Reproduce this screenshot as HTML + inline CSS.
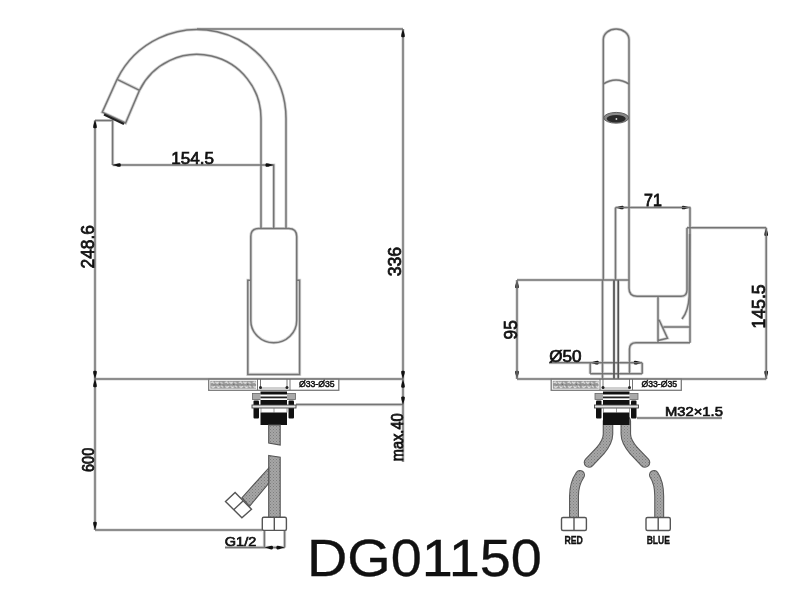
<!DOCTYPE html>
<html><head><meta charset="utf-8">
<style>
html,body{margin:0;padding:0;background:#fff;width:800px;height:600px;overflow:hidden}
svg{display:block;will-change:transform}
text{font-family:"Liberation Sans",sans-serif;fill:#111}
.t{stroke:#111;stroke-width:0.5}
</style></head><body>
<svg width="800" height="600" viewBox="0 0 800 600">
<defs>
<path id="ar" d="M0,0 C0.5,2.2 1.9,5 1.85,7.2 C1.8,8.6 -1.8,8.6 -1.85,7.2 C-1.9,5 -0.5,2.2 0,0z" fill="#111"/>
<pattern id="spk" width="14" height="8" patternUnits="userSpaceOnUse" x="210.3" y="380.8">
<rect width="14" height="8" fill="#969696"/>
<path d="M0.5,2 l2,-1 l1.5,2 M5,1 l2,1.5 l1.5,-1.5 M10,1.5 l2.5,1 M1,5.5 l2,1 l2,-1.5 M6.5,5 l1.5,1.8 l2,-1.2 M11,5 l2,1.5" stroke="#f0f0f0" stroke-width="1.1" fill="none"/>
<path d="M3.5,4.2 h1 M9,3.5 h1 M13,3.8 v0.8" stroke="#555" stroke-width="1" fill="none"/>
</pattern>
<pattern id="hose" width="3" height="3" patternUnits="userSpaceOnUse">
<rect width="3" height="3" fill="#a6a6a6"/>
<rect x="0" y="0" width="1" height="1" fill="#7e7e7e"/>
<rect x="1.5" y="1.5" width="1" height="1" fill="#888"/>
</pattern>
<g id="nut">
<rect x="208.7" y="379.2" width="130.1" height="11.1" fill="#fff" stroke="#7a7a7a" stroke-width="1.3"/>
<rect x="210.3" y="380.8" width="45.8" height="7.9" fill="url(#spk)"/>
<text transform="matrix(0.08660,0.00000,0.00000,0.09200,299.004,387.0)" font-size="100" stroke="#111" stroke-width="5.5">Ø33-Ø35</text>
<!-- washer -->
<rect x="252.5" y="393.5" width="43" height="6" fill="#a9a9a9" stroke="#666" stroke-width="0.8"/>
<!-- rod -->
<rect x="260.5" y="391" width="26.5" height="14" fill="#fff"/>
<rect x="260.5" y="391.5" width="26.5" height="3" fill="#111"/>
<rect x="260.5" y="396.5" width="26.5" height="1.8" fill="#222"/>
<rect x="260.5" y="400" width="26.5" height="5" fill="#111"/>
<!-- side blocks -->
<rect x="253.5" y="400.5" width="5.5" height="18" rx="1" fill="#111"/>
<rect x="288.5" y="400.5" width="5.5" height="18" rx="1" fill="#111"/>
<!-- bar -->
<rect x="252" y="405" width="44" height="3" fill="#e6e6e6" stroke="#444" stroke-width="0.9"/>
<path d="M261,408 v4.5 M287,408 v4.5 M274,408 v4.5" stroke="#777" stroke-width="0.7"/>
<!-- lower nut -->
<rect x="260.5" y="412.5" width="26.5" height="12.5" fill="#111"/>
<!-- slab gap details -->
<path d="M257.5,379 v11 M260.5,379 v9 M287,379 v9 M290,379 v11" stroke="#666" stroke-width="0.9"/>
<path d="M260.5,388 h26.5" stroke="#888" stroke-width="0.8"/>
<circle cx="260.5" cy="387.5" r="1.5" fill="#222"/>
<circle cx="287" cy="387.5" r="1.5" fill="#222"/>
</g>
<g id="L1">
<!-- ===== LEFT VIEW ===== -->
<!-- spout -->
<path d="M117.1,79.3 A89,89 0 0 1 286,118.5 L286,228.5"/>
<path d="M139.5,90.3 A64,64 0 0 1 261,118.5 L261,228.5"/>
<path d="M117.1,79.3 L139.5,90.3"/>
<path d="M117.1,79.3 L102.3,112.2 L125.6,123 L139.5,90.3"/>
<!-- handle -->
<path d="M250.8,320.5 L250.8,236.5 Q250.8,228.5 258.8,228.5 L288.7,228.5 Q296.7,228.5 296.7,236.5 L296.7,320.5 A22.95,22.2 0 0 1 250.8,320.5"/>
<!-- sleeve -->
<path d="M250.8,280.3 L247.8,280.3 L247.8,374.4 L299.6,374.4 L299.6,280.3 L296.7,280.3"/>
<!-- dims left -->
<path d="M197,29 L403,29"/>
<path d="M403,29 L403,462"/>
<path d="M95,120.5 L112.6,120.5 L112.6,165"/>
<path d="M95,120.5 L95,530"/>
<path d="M112.6,165 L273.7,165 L273.7,228.5"/>
<path d="M95,379 L403,379"/>
<path d="M296,404.6 L403,404.6"/>
<path d="M95,530 L262,530"/>
<path d="M264.4,530 v17.5 M284.6,530 v17.5 M225,547.4 h59.6"/>
</g>
<g id="L2">
<path d="M603.3,280 L603.3,39.5 A12.85,10.5 0 0 1 629,39.5 L629,288.3 Q629,296.3 637,296.3 L681,296.3 Q687,296.3 687,290 L687,227.7"/>
<path d="M603.3,84 Q616,76 629,84"/>
<path d="M602.5,280 L602.5,379 M614,280 L614,379 M618.3,280 L618.3,379"/>
<path d="M517,280 L629,280"/>
<path d="M517,280 L517,379"/>
<path d="M517,379 L766.2,379"/>
<path d="M615.5,207.5 L615.5,280 M690,207.5 L690,342.7"/>
<path d="M615.5,207.5 L690.5,207.5"/>
<path d="M687,227.7 L766.2,227.7 M766.2,227.7 L766.2,379"/>
<path d="M689.6,234 L689.2,296 Q688.5,311 682,319"/>
<path d="M658,296.3 L658,342.7 M659,319.7 L667.5,338.2 L658,340.5 M663.4,326.9 L690,326.9 M658,342.7 L690,342.7"/>
<path d="M658,342.7 L636,342.7 Q629.5,342.7 629.5,349 L629.5,374"/>
<path d="M590.2,362.7 v11 M642.2,362.7 v11 M549,362.7 h93.2"/>
<path d="M590.2,373.7 h52"/>
<path d="M637,418 h85"/>
</g>
</defs>
<use href="#L1" stroke="#d6d6d6" stroke-width="3.2" fill="none"/>
<use href="#L2" stroke="#d6d6d6" stroke-width="3.2" fill="none"/>


<use href="#L1" stroke="#747474" stroke-width="1.5" fill="none"/>
<path d="M104,114.5 L124,124" stroke="#222" stroke-width="2.4" fill="none"/>
<g id="arrows">
<use href="#ar" transform="translate(95,120) rotate(0)"/>
<use href="#ar" transform="translate(95,379) rotate(180)"/>
<use href="#ar" transform="translate(95,379) rotate(0)"/>
<use href="#ar" transform="translate(95,530) rotate(180)"/>
<use href="#ar" transform="translate(112.6,165) rotate(-90)"/>
<use href="#ar" transform="translate(273.7,165) rotate(90)"/>
<use href="#ar" transform="translate(403,29) rotate(0)"/>
<use href="#ar" transform="translate(403,379) rotate(180)"/>
<use href="#ar" transform="translate(403,379.5) rotate(0)"/>
<use href="#ar" transform="translate(403,404.8) rotate(180)"/>
<use href="#ar" transform="translate(264.8,547.6) rotate(-90)"/>
<use href="#ar" transform="translate(284.6,547.6) rotate(90)"/>
<use href="#ar" transform="translate(517,280) rotate(0)"/>
<use href="#ar" transform="translate(517,379) rotate(180)"/>
<use href="#ar" transform="translate(615.5,207.5) rotate(-90)"/>
<use href="#ar" transform="translate(690,207.5) rotate(90)"/>
<use href="#ar" transform="translate(766.2,227.7) rotate(0)"/>
<use href="#ar" transform="translate(766.2,379) rotate(180)"/>
<use href="#ar" transform="translate(590.6,362.7) rotate(-90)"/>
<use href="#ar" transform="translate(642,362.7) rotate(90)"/>
</g>
<!-- slab left -->
<use href="#nut"/>
<!-- left hoses -->
<path d="M268.7,425 h11.5 v20 l-11.5,-2z" fill="url(#hose)" stroke="#555" stroke-width="1.1"/>
<path d="M268.7,455.5 l11.5,1.8 v60.5 h-11.5z" fill="url(#hose)" stroke="#555" stroke-width="1.1"/>
<path d="M268.7,468 L242,497.7 L249.5,506.3 L268.7,483.3z" fill="url(#hose)" stroke="#555" stroke-width="1.1"/>
<g fill="#fff" stroke="#555" stroke-width="1.4">
<path d="M225.5,501.5 L235.1,492.5 L251.5,509.2 L241.9,517.8z"/>
<path d="M243.3,500.85 L233.7,509.65" fill="none"/>
<rect x="262.3" y="517.2" width="24.1" height="13.2" rx="1.5"/>
<path d="M274.3,517.2 v13.2" fill="none"/>
</g>

<!-- texts left -->
<!-- ===== RIGHT VIEW ===== -->
<use href="#L2" stroke="#747474" stroke-width="1.5" fill="none"/>
<ellipse cx="616.2" cy="117.8" rx="12.4" ry="5.4" fill="#8a8a8a" stroke="#555" stroke-width="0.9"/>
<ellipse cx="616.2" cy="118.8" rx="9.5" ry="3.8" fill="#2a2a2a"/>
<circle cx="616.4" cy="119" r="0.9" fill="#ddd"/>
<!-- slab right -->
<!-- right hoses -->
<g fill="none" stroke-linecap="round">
<path id="h1" d="M608,421 V434 C608,439 606,444 600,451 L589,462.5" stroke="#5a5a5a" stroke-width="10.6"/>
<path d="M608,421 V434 C608,439 606,444 600,451 L589,462.5" stroke="url(#hose)" stroke-width="8.4"/>
<path d="M625.8,421 V434 C625.8,439 628,444 634,451 L645,462.5" stroke="#5a5a5a" stroke-width="10.6"/>
<path d="M625.8,421 V434 C625.8,439 628,444 634,451 L645,462.5" stroke="url(#hose)" stroke-width="8.4"/>
<path d="M580,475 C576,481 574,487 574,496 V521" stroke="#5a5a5a" stroke-width="10"/>
<path d="M580,475 C576,481 574,487 574,496 V521" stroke="url(#hose)" stroke-width="7.8"/>
<path d="M654,475 C658,481 659.2,487 659.2,496 V521" stroke="#5a5a5a" stroke-width="10"/>
<path d="M654,475 C658,481 659.2,487 659.2,496 V521" stroke="url(#hose)" stroke-width="7.8"/>
</g>
<path d="M614,280.5 V379 M618.3,280.5 V379" stroke="#505050" stroke-width="1.3" fill="none"/>
<use href="#nut" transform="translate(342.5,0)"/>

<g fill="#fff" stroke="#555" stroke-width="1.4">
<rect x="561.5" y="517.5" width="24.9" height="13" rx="1.5"/>
<path d="M574,517.5 v13" fill="none"/>
<rect x="646" y="517.5" width="24.3" height="13" rx="1.5"/>
<path d="M658.2,517.5 v13" fill="none"/>
</g>
<g id="texts">
<text transform="matrix(0.17101,0.00000,0.00000,0.16857,171.282,163.881)" font-size="100" stroke="#111" stroke-width="4.39">154.5</text>
<text transform="matrix(0.00000,-0.17386,0.18169,0.00000,94.168,268.519)" font-size="100" stroke="#111" stroke-width="4.13">248.6</text>
<text transform="matrix(0.00000,-0.17595,0.17465,0.00000,401.375,276.254)" font-size="100" stroke="#111" stroke-width="4.29">336</text>
<text transform="matrix(0.00000,-0.14637,0.15634,0.00000,402.794,461.275)" font-size="100" stroke="#111" stroke-width="4.80">max.40</text>
<text transform="matrix(0.00000,-0.14494,0.16197,0.00000,94.188,471.975)" font-size="100" stroke="#111" stroke-width="4.63">600</text>
<text transform="matrix(0.14493,0.00000,0.00000,0.13243,224.825,546.118)" font-size="100" stroke="#111" stroke-width="5.17">G1/2</text>
<text transform="matrix(0.16040,0.00000,0.00000,0.16304,644.048,206.450)" font-size="100" stroke="#111" stroke-width="4.68">71</text>
<text transform="matrix(0.00000,-0.17157,0.19155,0.00000,516.858,339.408)" font-size="100" stroke="#111" stroke-width="3.92">95</text>
<text transform="matrix(0.00000,-0.17605,0.17571,0.00000,765.074,328.458)" font-size="100" stroke="#111" stroke-width="4.27">145.5</text>
<text transform="matrix(0.17099,0.00000,0.00000,0.15676,549.166,361.736)" font-size="100" stroke="#111" stroke-width="4.39">Ø50</text>
<text transform="matrix(0.14789,0.00000,0.00000,0.13380,664.967,416.416)" font-size="100" stroke="#111" stroke-width="5.07">M32×1.5</text>
<text transform="matrix(0.08750,0.00000,0.00000,0.10145,564.438,543.750)" font-size="100" font-weight="bold" fill="#333" stroke="#111" stroke-width="3.43">RED</text>
<text transform="matrix(0.08544,0.00000,0.00000,0.10000,646.652,543.650)" font-size="100" font-weight="bold" fill="#333" stroke="#111" stroke-width="3.51">BLUE</text>
<text transform="matrix(0.55868,0.00000,0.00000,0.52394,306.981,575.726)" font-size="100" stroke="#111" stroke-width="0.63">DG01150</text>
</g>
</svg>
</body></html>
